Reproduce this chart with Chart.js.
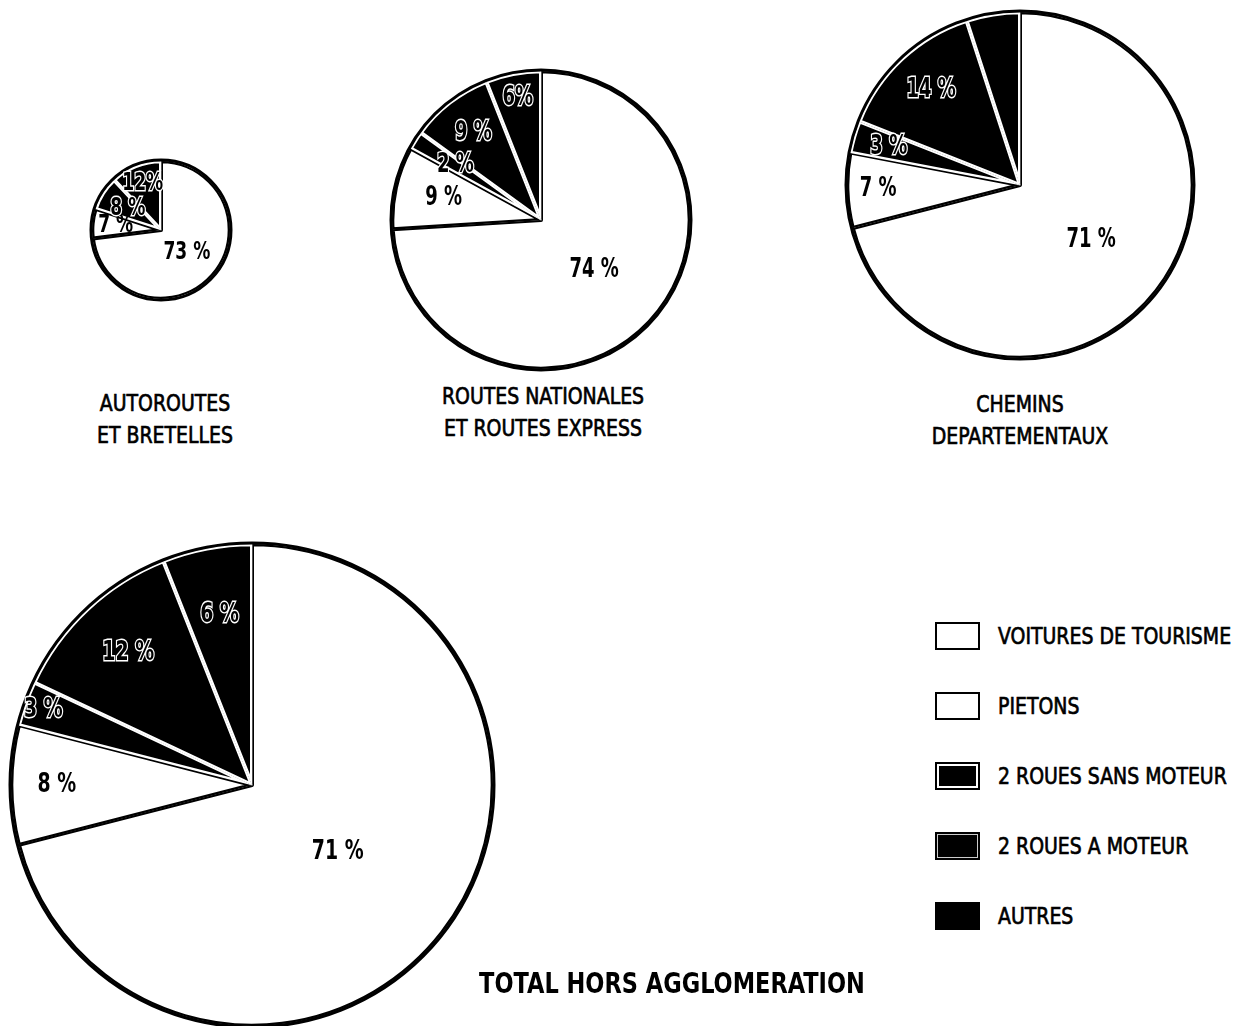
<!DOCTYPE html>
<html>
<head>
<meta charset="utf-8">
<script src="https://cdn.jsdelivr.net/npm/chart.js@4.4.1/dist/chart.umd.min.js"></script>
<style>
  body{margin:0;background:#fff;width:1245px;height:1026px;position:relative;overflow:hidden;
    font-family:"Liberation Sans Narrow","DejaVu Sans Condensed","Liberation Sans",sans-serif;color:#000}
  canvas{position:absolute}
  .cap{position:absolute;text-align:center;font-size:21px;line-height:28px;width:300px;
    -webkit-text-stroke:0.6px #000;transform:scaleY(1.12)}
  .title{position:absolute;font-size:25px;font-weight:bold;width:500px;text-align:center;transform:scaleY(1.15)}
  .leg{position:absolute;left:935px;font-size:21px}
  .leg .box{position:absolute;left:0;width:41px;height:24px;border:2px solid #000}
  .leg span{position:absolute;left:63px;top:0;white-space:nowrap;line-height:28px;
    -webkit-text-stroke:0.6px #000;transform:scaleY(1.12)}
</style>
</head>
<body>
<canvas id="pieAuto"></canvas>
<canvas id="pieRN"></canvas>
<canvas id="pieCD"></canvas>
<canvas id="pieTotal"></canvas>

<div class="cap" style="left:15px;top:391px">AUTOROUTES<br>ET BRETELLES</div>
<div class="cap" style="left:393px;top:384px">ROUTES NATIONALES<br>ET ROUTES EXPRESS</div>
<div class="cap" style="left:870px;top:392px">CHEMINS<br>DEPARTEMENTAUX</div>
<div class="title" style="left:422px;top:969px">TOTAL HORS AGGLOMERATION</div>
<div id="legend"></div>

<script>
// categories (same order in every pie, clockwise from 12 o'clock)
const categories = ['VOITURES DE TOURISME', 'PIETONS', '2 ROUES SANS MOTEUR', '2 ROUES A MOTEUR', 'AUTRES'];

// shares in %
const autoroutes = [73, 7, 0, 8, 12];
const routesNationales = [74, 9, 2, 9, 6];
const cheminsDepartementaux = [71, 7, 3, 14, 5];
const totalHorsAgglo = [71, 8, 3, 12, 6];

// slice labels
const autoroutesLabels = ['73 %', '7 %', '', '8 %', '12%'];
const routesNationalesLabels = ['74 %', '9 %', '2 %', '9 %', '6%'];
const cheminsLabels = ['71 %', '7 %', '3 %', '14 %', ''];
const totalLabels = ['71 %', '8 %', '3 %', '12 %', '6 %'];

const fills = ['#ffffff', '#ffffff', '#000000', '#000000', '#000000'];
const borders = ['#000000', '#000000', '#ffffff', '#ffffff', '#ffffff'];
const FONT = '"Liberation Sans Narrow","DejaVu Sans Condensed","Liberation Sans",sans-serif';

// black outer ring + percent labels
const piePlugin = {
  id: 'pieDeco',
  afterDatasetsDraw(chart, args, opts) {
    const ctx = chart.ctx;
    const meta = chart.getDatasetMeta(0);
    const first = meta.data[0];
    const {x, y, outerRadius} = first.getProps(['x', 'y', 'outerRadius'], true);
    ctx.save();
    ctx.beginPath();
    ctx.arc(x, y, outerRadius + 1, 0, Math.PI * 2);
    ctx.lineWidth = 3;
    ctx.strokeStyle = '#000';
    ctx.stroke();

    ctx.font = 'bold ' + opts.fontSize + 'px ' + FONT;
    ctx.textAlign = 'center';
    ctx.textBaseline = 'middle';
    meta.data.forEach((arc, i) => {
      const txt = opts.labels[i];
      if (!txt) return;
      const p = arc.getProps(['startAngle', 'endAngle'], true);
      const a = (p.startAngle + p.endAngle) / 2;
      const rr = opts.radii[i] * outerRadius;
      const lx = x + Math.cos(a) * rr, ly = y + Math.sin(a) * rr;
      ctx.save();
      ctx.translate(lx, ly);
      ctx.scale(1, 1.3);
      if (fills[i] === '#000000') {
        ctx.lineWidth = 2.2;
        ctx.strokeStyle = '#fff';
        ctx.strokeText(txt, 0, 0);
      }
      ctx.fillStyle = '#000';
      ctx.fillText(txt, 0, 0);
      ctx.restore();
    });
    ctx.restore();
  }
};

function makePie(id, values, labels, cx, cy, r, radii, fontSize) {
  const cv = document.getElementById(id);
  const half = r + 6;
  cv.width = half * 2;
  cv.height = half * 2;
  cv.style.left = (cx - half) + 'px';
  cv.style.top = (cy - half) + 'px';
  return new Chart(cv, {
    type: 'pie',
    data: {
      labels: categories,
      datasets: [{
        data: values,
        backgroundColor: fills,
        borderColor: borders,
        borderWidth: 2,
        borderAlign: 'inner'
      }]
    },
    options: {
      responsive: false,
      animation: false,
      radius: r,
      layout: {padding: 0},
      plugins: {
        legend: {display: false},
        tooltip: {enabled: false},
        pieDeco: {labels: labels, radii: radii, fontSize: fontSize}
      }
    },
    plugins: [piePlugin]
  });
}

makePie('pieAuto', autoroutes, autoroutesLabels, 161, 230, 69, [0.5, 0.66, 0.6, 0.57, 0.72], 19);
makePie('pieRN', routesNationales, routesNationalesLabels, 541, 220, 149, [0.49, 0.67, 0.68, 0.74, 0.83], 20);
makePie('pieCD', cheminsDepartementaux, cheminsLabels, 1020, 185, 173, [0.52, 0.82, 0.79, 0.75, 0.8], 20);
makePie('pieTotal', totalHorsAgglo, totalLabels, 252, 785, 241, [0.45, 0.81, 0.92, 0.75, 0.72], 21);

// legend
const legendShadow = ['', '', 'inset 0 0 0 2px #fff', 'inset 0 0 0 1px #ccc', ''];
const legendTop = [622, 692, 762, 832, 902];
const legend = document.getElementById('legend');
categories.forEach((c, i) => {
  const row = document.createElement('div');
  row.className = 'leg';
  row.style.top = legendTop[i] + 'px';
  const box = document.createElement('div');
  box.className = 'box';
  box.style.background = fills[i];
  if (legendShadow[i]) box.style.boxShadow = legendShadow[i];
  const sp = document.createElement('span');
  sp.textContent = c;
  row.appendChild(box);
  row.appendChild(sp);
  legend.appendChild(row);
});
</script>
</body>
</html>
